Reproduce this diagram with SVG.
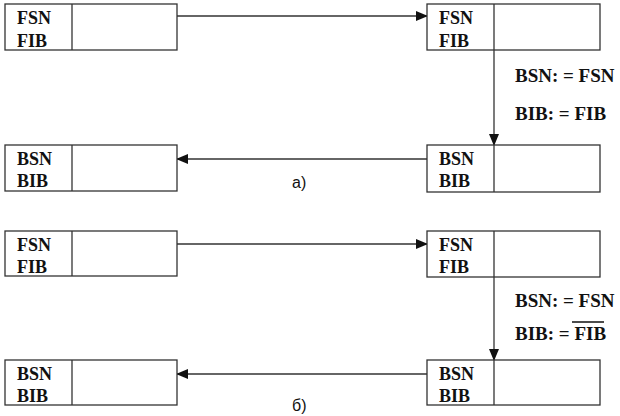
<svg xmlns="http://www.w3.org/2000/svg" width="620" height="416" viewBox="0 0 620 416">
<style>
.box{fill:#fff;stroke:#333;stroke-width:1.3}
.div{stroke:#333;stroke-width:1.3}
.t{font-family:"Liberation Serif","Times New Roman",serif;font-weight:bold;font-size:18px;fill:#111}
.l{font-family:"Liberation Serif","Times New Roman",serif;font-weight:bold;font-size:19px;fill:#111}
.c{font-family:"Liberation Sans",Arial,sans-serif;font-size:16px;fill:#111}
.con{stroke:#333;stroke-width:1.3;fill:none}
</style>
<defs>
<marker id="ah" markerWidth="12" markerHeight="10" refX="11" refY="5" orient="auto" markerUnits="userSpaceOnUse">
<path d="M0,0 L12,5 L0,10 Z" fill="#111"/>
</marker>
</defs>
<rect width="620" height="416" fill="#fff"/>
<g id="connectors">
<line class="con" x1="177" y1="16" x2="427" y2="16" marker-end="url(#ah)"/>
<line class="con" x1="494" y1="50" x2="494" y2="145" marker-end="url(#ah)"/>
<line class="con" x1="427" y1="159" x2="177" y2="159" marker-end="url(#ah)"/>
<line class="con" x1="177" y1="244" x2="427" y2="244" marker-end="url(#ah)"/>
<line class="con" x1="494" y1="277" x2="494" y2="360" marker-end="url(#ah)"/>
<line class="con" x1="427" y1="374" x2="177" y2="374" marker-end="url(#ah)"/>
</g>
<g id="n1"><rect class="box" x="5" y="4" width="172" height="46"/><line class="div" x1="72" y1="4" x2="72" y2="50"/><text class="t" x="17" y="24">FSN</text><text class="t" x="17" y="47">FIB</text></g>
<g id="n2"><rect class="box" x="427" y="4" width="173" height="46"/><line class="div" x1="494" y1="4" x2="494" y2="50"/><text class="t" x="439" y="24">FSN</text><text class="t" x="439" y="47">FIB</text></g>
<g id="n3"><rect class="box" x="5" y="145" width="172" height="46"/><line class="div" x1="72" y1="145" x2="72" y2="191"/><text class="t" x="17" y="165">BSN</text><text class="t" x="17" y="187">BIB</text></g>
<g id="n4"><rect class="box" x="427" y="145" width="173" height="47"/><line class="div" x1="494" y1="145" x2="494" y2="192"/><text class="t" x="439" y="165">BSN</text><text class="t" x="439" y="187">BIB</text></g>
<g id="n5"><rect class="box" x="5" y="231" width="172" height="45"/><line class="div" x1="72" y1="231" x2="72" y2="276"/><text class="t" x="17" y="251">FSN</text><text class="t" x="17" y="273">FIB</text></g>
<g id="n6"><rect class="box" x="427" y="231" width="173" height="46"/><line class="div" x1="494" y1="231" x2="494" y2="277"/><text class="t" x="439" y="251">FSN</text><text class="t" x="439" y="273">FIB</text></g>
<g id="n7"><rect class="box" x="5" y="360" width="172" height="45"/><line class="div" x1="72" y1="360" x2="72" y2="405"/><text class="t" x="17" y="380">BSN</text><text class="t" x="17" y="402">BIB</text></g>
<g id="n8"><rect class="box" x="427" y="360" width="173" height="45"/><line class="div" x1="494" y1="360" x2="494" y2="405"/><text class="t" x="439" y="380">BSN</text><text class="t" x="439" y="402">BIB</text></g>
<g id="labels">
<text class="l" x="515" y="82">BSN: = FSN</text>
<text class="l" x="515" y="120">BIB: = FIB</text>
<text class="l" x="515" y="307">BSN: = FSN</text>
<text class="l" x="515" y="340">BIB: = FIB</text>
<line x1="572" y1="322" x2="604" y2="322" stroke="#111" stroke-width="1.5"/>
<text class="c" x="292" y="188">а)</text>
<text class="c" x="292" y="411">б)</text>
</g>
</svg>
